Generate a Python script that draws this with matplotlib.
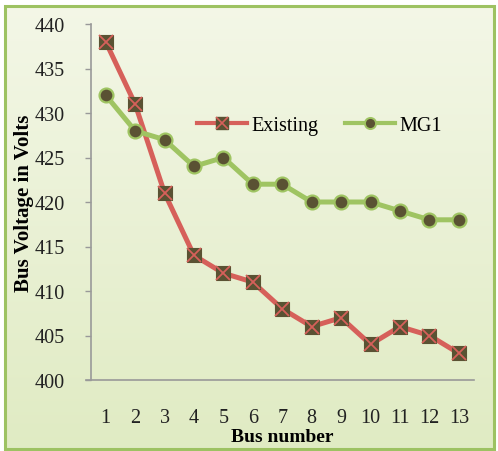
# Bus voltage profile: existing network vs. MG1
import numpy as np
import matplotlib.pyplot as plt
from matplotlib.patches import Rectangle

plt.rcParams['font.family'] = ['Liberation Serif', 'DejaVu Serif']

bus = list(range(1, 14))
existing = [438, 431, 421, 414, 412, 411, 408, 406, 407, 404, 406, 405, 403]
mg1 = [432, 428, 427, 424, 425, 422, 422, 420, 420, 420, 419, 418, 418]

W, H = 498, 452
fig = plt.figure(figsize=(W / 100, H / 100), dpi=100)

# Gradient panel behind the chart
x0, y0, x1, y1 = 5, 7, 494, 450
bg = fig.add_axes([x0 / W, 1 - y1 / H, (x1 - x0) / W, (y1 - y0) / H], zorder=0)
top = np.array([0.955, 0.968, 0.905])
bot = np.array([0.878, 0.922, 0.765])
t = np.linspace(0, 1, 256)[:, None, None]
grad = top + (bot - top) * t
bg.imshow(np.repeat(grad, 2, axis=1), aspect='auto', extent=[0, 1, 0, 1])
bg.set_axis_off()
fig.patches.append(Rectangle((x0 / W, 1 - y1 / H), (x1 - x0) / W, (y1 - y0) / H,
                             transform=fig.transFigure, fill=False,
                             edgecolor='#9dc262', linewidth=2.2, zorder=5))

ax = fig.add_axes([91 / W, 1 - 381 / H, (473.5 - 91) / W, (381 - 25) / H], zorder=1)
ax.patch.set_alpha(0)

red = '#d6605a'
green = '#9fc462'
dark = '#5a5233'

ax.plot(bus, existing, color=red, lw=3.6, marker='s', ms=9.5,
        mfc=dark, mec=dark, mew=0.8, label='Existing', zorder=3)
ax.plot(bus, existing, ls='none', marker='x', ms=9.5, mec=red, mew=1.3, zorder=4)
ax.plot(bus, mg1, color=green, lw=3.6, marker='o', ms=10,
        mfc=dark, mec=green, mew=1.6, label='MG1', zorder=3)

ax.set_xlim(0.5, 13.5)
ax.set_ylim(400, 440)
ax.set_xticks(bus)
ax.set_yticks(range(400, 441, 5))
ax.tick_params(axis='x', length=0, pad=20, labelsize=14.5, colors='#222222')
ax.tick_params(axis='y', length=4, width=1, color='#999999', direction='out',
               pad=15, labelsize=14.5, labelcolor='#222222')
for s in ['top', 'right']:
    ax.spines[s].set_visible(False)
for s in ['left', 'bottom']:
    ax.spines[s].set_color('#999999')
    ax.spines[s].set_linewidth(1.2)
ax.spines['bottom'].set_bounds(0.33, 13.5)

ax.set_xlabel('Bus number', fontsize=14, fontweight='bold', labelpad=1)
ax.set_ylabel('Bus Voltage in Volts', fontsize=15, fontweight='bold', labelpad=0)

# Legend handles: draw the red X on top of the square for "Existing"
h_ex = ax.plot([], [], color=red, lw=3, marker='s', ms=8, mfc=dark, mec=dark)[0]
h_x = ax.plot([], [], ls='none', marker='x', ms=8, mec=red, mew=1.2)[0]
h_mg = ax.plot([], [], color=green, lw=3, marker='o', ms=8, mfc=dark, mec=green, mew=1.4)[0]
ax.legend([(h_ex, h_x), h_mg], ['Existing', 'MG1'], ncol=2, frameon=False,
          loc='center', bbox_to_anchor=(0.597, 0.716), fontsize=14.5,
          handlelength=2.5, handletextpad=0.2, columnspacing=1.3)

fig.savefig('out.png', dpi=100)
